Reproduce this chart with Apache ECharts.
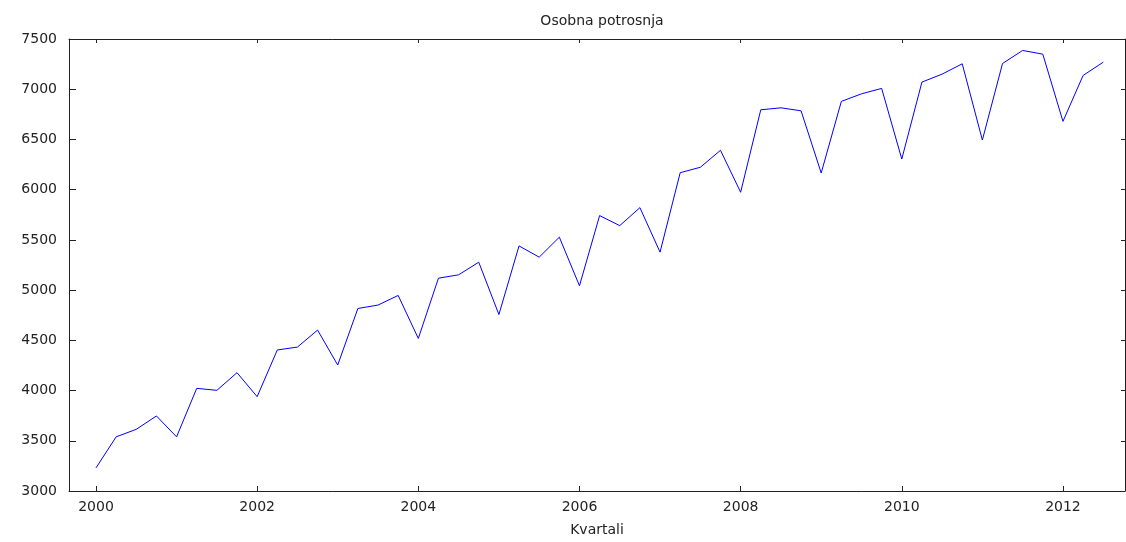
<!DOCTYPE html>
<html>
<head>
<meta charset="utf-8">
<script src="https://cdn.jsdelivr.net/npm/echarts@6/dist/echarts.min.js"></script>
<style>
html,body{margin:0;padding:0;background:#fff;}
#chart{width:1126px;height:542px;}
</style>
</head>
<body>
<div id="chart"></div>
<script>
const periods = [
  '2000:1','2000:2','2000:3','2000:4',
  '2001:1','2001:2','2001:3','2001:4',
  '2002:1','2002:2','2002:3','2002:4',
  '2003:1','2003:2','2003:3','2003:4',
  '2004:1','2004:2','2004:3','2004:4',
  '2005:1','2005:2','2005:3','2005:4',
  '2006:1','2006:2','2006:3','2006:4',
  '2007:1','2007:2','2007:3','2007:4',
  '2008:1','2008:2','2008:3','2008:4',
  '2009:1','2009:2','2009:3','2009:4',
  '2010:1','2010:2','2010:3','2010:4',
  '2011:1','2011:2','2011:3','2011:4',
  '2012:1','2012:2','2012:3'
];
const potrosnja = [
  3230, 3539, 3614, 3747,
  3539, 4022, 4002, 4178,
  3939, 4404, 4433, 4602,
  4254, 4817, 4851, 4947,
  4519, 5119, 5152, 5278,
  4757, 5440, 5328, 5527,
  5043, 5742, 5642, 5821,
  5378, 6169, 6223, 6392,
  5974, 6795, 6815, 6785,
  6166, 6879, 6954, 7008,
  6305, 7071, 7150, 7253,
  6494, 7256, 7386, 7349,
  6680, 7137, 7269
];
const xTicks = [2000, 2002, 2004, 2006, 2008, 2010, 2012];
const titleText = 'Osobna potrosnja';
const xName = 'Kvartali';

const seriesData = periods.map((p, i) => {
  const [y, q] = p.split(':').map(Number);
  return [y + (q - 1) / 4, potrosnja[i]];
});

const axisColor = '#222';
const fontFam = 'DejaVu Sans';
const chart = echarts.init(document.getElementById('chart'), null, {renderer: 'canvas'});
chart.setOption({
  animation: false,
  backgroundColor: '#fff',
  title: {
    text: titleText,
    left: 597, top: 9, textAlign: 'center',
    textStyle: {fontFamily: fontFam, fontSize: 14, fontWeight: 'normal', color: '#222'}
  },
  grid: {left: 69, right: 1, top: 39, bottom: 50, containLabel: false},
  xAxis: [{
    type: 'value', min: 1999.665, max: 2012.77,
    name: xName, nameLocation: 'middle', nameGap: 32,
    nameTextStyle: {fontFamily: fontFam, fontSize: 14, color: '#222'},
    axisLine: {show: true, lineStyle: {color: axisColor, width: 1}},
    axisTick: {show: true, inside: true, length: 5, customValues: xTicks, lineStyle: {color: axisColor}},
    axisLabel: {show: true, customValues: xTicks, margin: 9, fontFamily: fontFam, fontSize: 14, color: '#222',
      formatter: v => String(Math.round(v))},
    splitLine: {show: false}
  }, {
    type: 'value', position: 'top', min: 1999.665, max: 2012.77,
    axisLine: {show: true, lineStyle: {color: axisColor, width: 1}},
    axisTick: {show: true, inside: true, length: 4, customValues: xTicks, lineStyle: {color: axisColor}},
    axisLabel: {show: false},
    splitLine: {show: false}
  }],
  yAxis: [{
    type: 'value', min: 3000, max: 7500, interval: 500,
    axisLine: {show: true, lineStyle: {color: axisColor, width: 1}},
    axisTick: {show: true, inside: true, length: 7, lineStyle: {color: axisColor}},
    axisLabel: {show: true, margin: 12, fontFamily: fontFam, fontSize: 14, color: '#222',
      formatter: v => String(v)},
    splitLine: {show: false}
  }, {
    type: 'value', position: 'right', min: 3000, max: 7500, interval: 500,
    axisLine: {show: true, lineStyle: {color: axisColor, width: 1}},
    axisTick: {show: true, inside: true, length: 4, lineStyle: {color: axisColor}},
    axisLabel: {show: false},
    splitLine: {show: false}
  }],
  series: [{
    type: 'line',
    xAxisIndex: 0, yAxisIndex: 0,
    data: seriesData,
    showSymbol: false,
    symbol: 'none',
    lineStyle: {color: '#0000ff', width: 1},
    itemStyle: {color: '#0000ff'}
  }]
});
</script>
</body>
</html>
